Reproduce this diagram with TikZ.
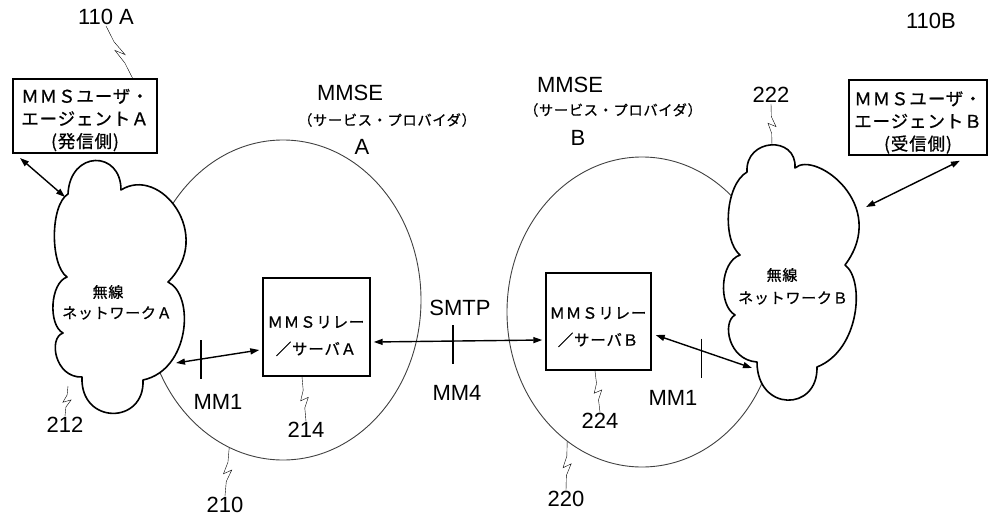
\documentclass[tikz,border=0pt]{standalone}
\usepackage{fontspec}
\setmainfont{Liberation Sans}
\newfontfamily\jpx{Noto Sans CJK JP}[LetterSpace=5,FakeBold=0.8]
\usetikzlibrary{arrows.meta,calc,shapes.geometric}

\tikzset{
  x=1pt, y=-1pt,
  lbl/.style={font=\fontsize{22}{24}\selectfont, inner sep=1pt},
  boxtxt/.style={align=center, inner sep=0pt, font={\jpx\fontsize{17.5}{22.5}\selectfont}},
  parentxt/.style={inner sep=0pt, font={\jpx\fontsize{14.2}{15}\selectfont}},
  relaytxt/.style={align=center, inner sep=0pt, font={\jpx\fontsize{15.5}{27}\selectfont}},
  cloudtxt/.style={inner sep=0pt, font={\jpx\fontsize{15}{16}\selectfont}},
  agentbox/.style={draw, line width=1.4pt, inner sep=0pt},
  realm/.style={ellipse, draw=black!75, line width=0.9pt, inner sep=0pt},
  cloud/.style={draw, fill=white, line width=1.6pt, line join=round},
  dbl/.style={{Triangle[length=9pt,width=6pt]}-{Triangle[length=9pt,width=6pt]}, line width=1.4pt},
  tick/.style={line width=1.4pt},
  leader/.style={line width=1.1pt, to path={-- ($(\tikztostart)!0.3!(\tikztotarget)$)
      -- ($(\tikztostart)!0.54!(\tikztotarget)+(4.5,0)$)
      -- ($(\tikztostart)!0.46!(\tikztotarget)+(-3.5,0)$)
      -- ($(\tikztostart)!0.7!(\tikztotarget)$) -- (\tikztotarget)}},
}

\begin{document}
\begin{tikzpicture}
\useasboundingbox (0,0) rectangle (990,519);

% service provider realms
\node[realm, minimum width=276pt, minimum height=320pt] (mmseA) at (283,300) {};
\node[realm, minimum width=270pt, minimum height=310pt] (mmseB) at (642,312) {};

% wireless network A
\draw[cloud] (68,194) .. controls (70,150) and (121,150) .. (121,190)
  .. controls (160,165) and (215,235) .. (168,282)
  .. controls (195,295) and (190,370) .. (143,380)
  .. controls (145,425) and (80,425) .. (82,377)
  .. controls (55,378) and (48,338) .. (63,333)
  .. controls (48,325) and (50,283) .. (67,277)
  .. controls (50,265) and (50,205) .. (68,194) -- cycle;

% wireless network B
\draw[cloud] (747,172) .. controls (745,138) and (797,135) .. (795,168)
  .. controls (815,150) and (890,205) .. (845,265)
  .. controls (865,280) and (860,350) .. (817,367)
  .. controls (818,412) and (757,412) .. (757,362)
  .. controls (728,360) and (722,322) .. (735,315)
  .. controls (718,305) and (720,262) .. (740,255)
  .. controls (722,240) and (725,185) .. (747,172) -- cycle;

\node[cloudtxt] (cAt1) at (108,292) {無線};
\node[cloudtxt] (cAt2) at (117,313) {ネットワークＡ};
\node[cloudtxt] (cBt1) at (782,275) {無線};
\node[cloudtxt] (cBt2) at (793,298) {ネットワークＢ};

% cloud contact points
\coordinate (cAua) at (65,197);
\coordinate (cAmm) at (176,363);
\coordinate (cBmm) at (752,368);
\coordinate (cBub) at (866,207);
\coordinate (e212) at (68,386);
\coordinate (e222) at (772,146);

% user agents
\node[agentbox, minimum width=144pt, minimum height=74pt] (boxA) at (85,116) {};
\node[boxtxt] (boxAt) at (85,120) {ＭＭＳユーザ・\\エージェントＡ\\(発信側)};
\node[agentbox, minimum width=138pt, minimum height=75pt] (boxB) at (918,117.5) {};
\node[boxtxt] (boxBt) at (918,122.5) {ＭＭＳユーザ・\\エージェントＢ\\(受信側)};

% relay / servers
\node[agentbox, minimum width=107pt, minimum height=98pt] (relayA) at (316.5,327) {};
\node[relaytxt] (relayAt) at (316,336) {ＭＭＳリレー\\／サーバＡ};
\node[agentbox, minimum width=105pt, minimum height=97pt] (relayB) at (598.5,321.5) {};
\node[relaytxt] (relayBt) at (598,327) {ＭＭＳリレー\\／サーバＢ};

% realm headings
\node[lbl] (hA1) at (350,93) {MMSE};
\node[parentxt] (hA2) at (387,120) {（サービス・プロバイダ）};
\node[lbl] (hA3) at (362,147) {A};
\node[lbl] (hB1) at (570,85) {MMSE};
\node[parentxt] (hB2) at (613,110) {（サービス・プロバイダ）};
\node[lbl] (hB3) at (578,138) {B};

% interfaces
\coordinate (uaA) at (20,158);
\draw[dbl] (uaA) -- (cAua);
\draw[dbl] (cAmm) -- coordinate[pos=0.3] (tk1) ($(relayA.west)+(-3,23)$);
\draw[dbl] ($(relayA.east)+(3,15)$) -- coordinate[pos=0.47] (tk2) ($(relayB.west)+(-3,18.5)$);
\draw[dbl] ($(relayB.east)+(4,13.5)$) -- coordinate[pos=0.474] (tk3) (cBmm);
\draw[dbl] (cBub) -- ($(boxB.south)+(42,5)$);

\draw[tick] ($(tk1)+(0,-19)$) -- ($(tk1)+(0,20)$);
\draw[tick] ($(tk2)+(0,-16)$) -- ($(tk2)+(0,23)$);
\draw[tick] ($(tk3)+(0,-12)$) -- ($(tk3)+(0,27)$);

\node[lbl] (smtp) at (460,308) {SMTP};
\node[lbl] (mm4) at (457,393) {MM4};
\node[lbl] (mm1a) at (218,402) {MM1};
\node[lbl] (mm1b) at (673,398) {MM1};

% reference numerals
\node[lbl] (n110a) at (106,17) {110 A};
\node[lbl] (n110b) at (931,21) {110B};
\node[lbl] (n212) at (65,425) {212};
\node[lbl] (n214) at (306,430) {214};
\node[lbl] (n210) at (225,505) {210};
\node[lbl] (n220) at (566,499) {220};
\node[lbl] (n224) at (600,421) {224};
\node[lbl] (n222) at (771,95) {222};

\coordinate (e110a) at (133,79);
\coordinate (e214) at (302,377);
\coordinate (e224) at (595,371);

\draw (n110a.south) to[leader] (e110a);
\draw (n212.north) to[leader] (e212);
\draw (n214.north) to[leader] (e214);
\draw (n210.north) to[leader] (mmseA.-110);
\draw (n220.north) to[leader] (mmseB.-120);
\draw (n224.north) to[leader] (e224);
\draw (n222.south) to[leader] (e222);
\end{tikzpicture}
\end{document}
